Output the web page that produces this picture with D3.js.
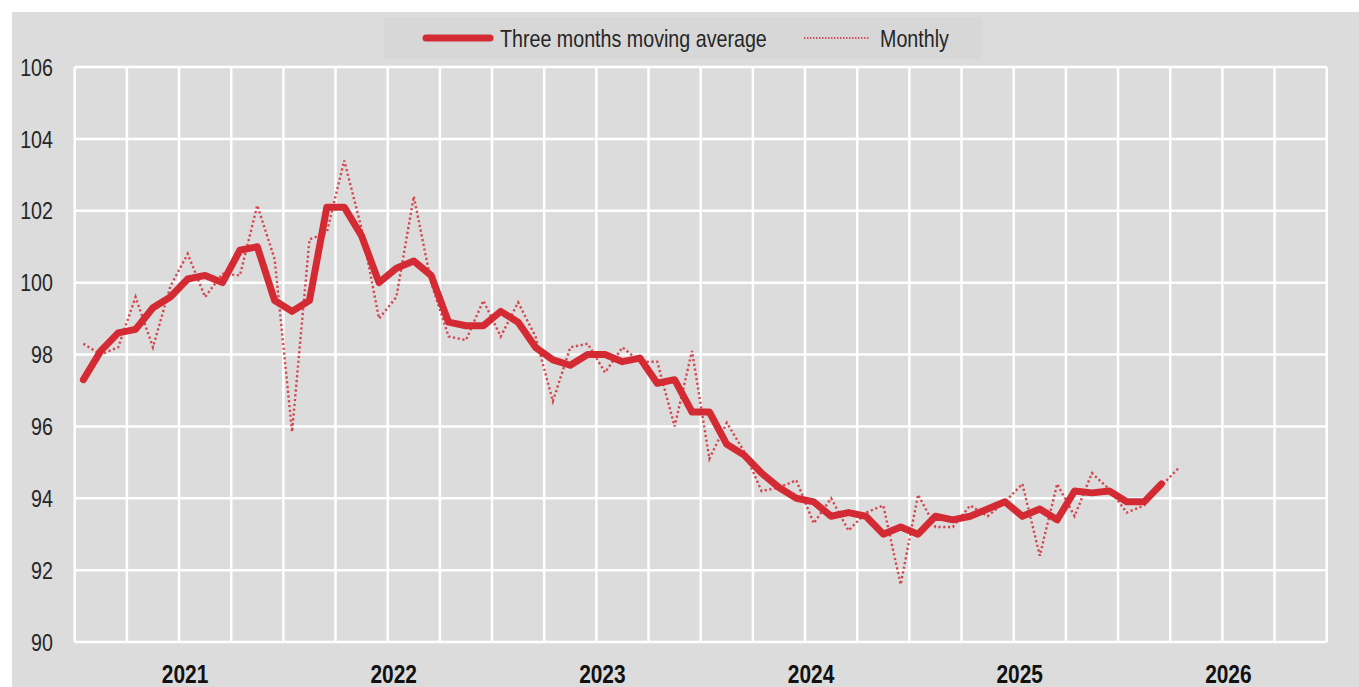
<!DOCTYPE html>
<html>
<head>
<meta charset="utf-8">
<script src="https://cdn.jsdelivr.net/npm/d3@7"></script>
<style>
  body { margin: 0; background: #fff; }
  text { font-family: "Liberation Sans Narrow", "Arial Narrow", "Liberation Sans", sans-serif; }
  .tick-y { font-size: 24px; fill: #262626; }
  .tick-x { font-size: 25.5px; font-weight: bold; fill: #111; }
  .legend-text { font-size: 24px; fill: #262626; }
</style>
</head>
<body>
<svg id="chart" width="1359" height="687"></svg>
<script>
var years = [2021, 2022, 2023, 2024, 2025, 2026];
var yTicks = [90, 92, 94, 96, 98, 100, 102, 104, 106];

// monthly index values, Jan 2021 onwards
var monthly = [98.3, 98.0, 98.2, 99.6, 98.2, 99.9, 100.8, 99.6, 100.25, 100.2, 102.15, 100.65,
               95.85, 101.2, 101.4, 103.4, 101.5, 99.0, 99.6, 102.4, 100.0, 98.5, 98.4, 99.5,
               98.5, 99.45, 98.5, 96.7, 98.2, 98.3, 97.5, 98.2, 97.8, 97.8, 96.0, 98.1,
               95.1, 96.1, 95.3, 94.2, 94.3, 94.5, 93.3, 94.0, 93.1, 93.6, 93.8, 91.6,
               94.1, 93.2, 93.2, 93.8, 93.5, 93.9, 94.4, 92.4, 94.4, 93.5, 94.7, 94.25,
               93.6, 93.8, 94.35, 94.85];

// three months moving average, Jan 2021 onwards
var movingAvg = [97.3, 98.1, 98.6, 98.7, 99.3, 99.6, 100.1, 100.2, 100.0, 100.9, 101.0, 99.5,
                 99.2, 99.5, 102.1, 102.1, 101.3, 100.0, 100.4, 100.6, 100.2, 98.9, 98.8, 98.8,
                 99.2, 98.9, 98.2, 97.85, 97.7, 98.0, 98.0, 97.8, 97.9, 97.2, 97.3, 96.4,
                 96.4, 95.5, 95.2, 94.7, 94.3, 94.0, 93.9, 93.5, 93.6, 93.5, 93.0, 93.2,
                 93.0, 93.5, 93.4, 93.5, 93.7, 93.9, 93.5, 93.7, 93.4, 94.2, 94.15, 94.2,
                 93.9, 93.9, 94.4];

var legendLabels = ["Three months moving average", "Monthly"];

var months = [];
years.forEach(function(y){
  for (var m = 1; m <= 12; m++) months.push(y + "-" + (m < 10 ? "0" + m : m));
});

var red = "#d42a33";
var narrow = 0.82;   // no Arial Narrow here, so squeeze the text
var svg = d3.select("#chart");

function place(x, y) {
  return "translate(" + x + "," + y + ") scale(" + narrow + ",1)";
}

// grey panel
svg.append("rect")
   .attr("x", 12).attr("y", 12)
   .attr("width", 1359 - 12).attr("height", 687 - 12)
   .attr("fill", "#dcdcdc");

var xScale = d3.scaleBand()
               .domain(months)
               .range([74.7, 1326.7]);

var yScale = d3.scaleLinear()
               .domain([90, 106])
               .range([642, 67]);

var bw = xScale.bandwidth();

// gridlines
var grid = svg.append("g").attr("stroke", "#fff").attr("stroke-width", 2.5);

grid.selectAll(".hgrid")
    .data(yTicks)
    .enter().append("line")
    .attr("x1", xScale.range()[0]).attr("x2", xScale.range()[1])
    .attr("y1", function(d){ return yScale(d); })
    .attr("y2", function(d){ return yScale(d); });

var quarterLines = months.filter(function(d, i){ return i % 3 == 0; });
grid.selectAll(".vgrid")
    .data(quarterLines.concat(["end"]))
    .enter().append("line")
    .attr("x1", function(d){ return d == "end" ? xScale.range()[1] : xScale(d); })
    .attr("x2", function(d){ return d == "end" ? xScale.range()[1] : xScale(d); })
    .attr("y1", yScale(106)).attr("y2", yScale(90));

// y labels
svg.selectAll(".tick-y")
   .data(yTicks)
   .enter().append("text")
   .attr("class", "tick-y")
   .attr("transform", function(d){ return place(53, yScale(d)); })
   .attr("dy", "0.36em")
   .attr("text-anchor", "end")
   .text(function(d){ return d; });

// year labels, centred on each year (a bit right, like the original)
svg.selectAll(".tick-x")
   .data(years)
   .enter().append("text")
   .attr("class", "tick-x")
   .attr("transform", function(d){ return place(xScale(d + "-01") + 6 * bw + 6, 683); })
   .attr("text-anchor", "middle")
   .text(function(d){ return d; });

var line = d3.line()
             .x(function(d, i){ return xScale(months[i]) + bw / 2; })
             .y(function(d){ return yScale(d); });

svg.append("path")
   .datum(monthly)
   .attr("d", line)
   .attr("fill", "none")
   .attr("stroke", red)
   .attr("stroke-opacity", 0.85)
   .attr("stroke-width", 2.4)
   .attr("stroke-dasharray", "2.2,2.6");

svg.append("path")
   .datum(movingAvg)
   .attr("d", line)
   .attr("fill", "none")
   .attr("stroke", red)
   .attr("stroke-width", 7)
   .attr("stroke-linejoin", "round")
   .attr("stroke-linecap", "round");

// legend
var legend = svg.append("g");
legend.append("rect")
      .attr("x", 384).attr("y", 17)
      .attr("width", 598).attr("height", 42)
      .attr("fill", "#d7d7d7");

legend.append("line")
      .attr("x1", 426).attr("x2", 490)
      .attr("y1", 38).attr("y2", 38)
      .attr("stroke", red).attr("stroke-width", 7)
      .attr("stroke-linecap", "round");

legend.append("text")
      .attr("class", "legend-text")
      .attr("transform", place(500, 47))
      .text(legendLabels[0]);

legend.append("line")
      .attr("x1", 804).attr("x2", 869)
      .attr("y1", 38).attr("y2", 38)
      .attr("stroke", red).attr("stroke-width", 1.5)
      .attr("stroke-dasharray", "1.5,1.5");

legend.append("text")
      .attr("class", "legend-text")
      .attr("transform", place(880, 47))
      .text(legendLabels[1]);
</script>
</body>
</html>
